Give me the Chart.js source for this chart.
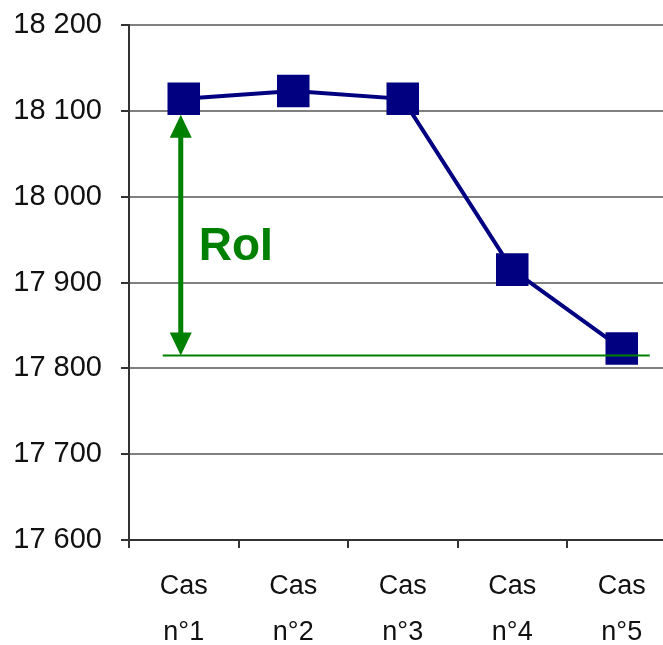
<!DOCTYPE html>
<html>
<head>
<meta charset="utf-8">
<script src="https://cdn.jsdelivr.net/npm/chart.js@4/dist/chart.umd.min.js"></script>
<style>
  html, body { margin: 0; padding: 0; background: #fff; overflow: hidden; }
  #wrap { position: absolute; left: 0; top: 0; width: 680px; height: 645px; }
  canvas { display: block; }
</style>
</head>
<body>
<div id="wrap"><canvas id="c" width="680" height="645"></canvas></div>
<script>
// Scenario labels (two lines each) and the value of each case
const caseLabels = [['Cas', 'n°1'], ['Cas', 'n°2'], ['Cas', 'n°3'], ['Cas', 'n°4'], ['Cas', 'n°5']];
const caseValues = [18114, 18123, 18114, 17915, 17823];

// Value axis range and step
const yMin = 17600;
const yMax = 18200;
const yStep = 100;

// RoI span: from the first case down to the reference level
const roiLabel = 'RoI';
const roiTopValue = caseValues[0];
const roiBaseValue = 17815;

const GREEN = '#008000';
const NAVY = '#000080';

function formatThousands(v) {
  return String(v).replace(/\B(?=(\d{3})+(?!\d))/g, ' ');
}

// Draws the green double arrow, the base line and the RoI label
const roiPlugin = {
  id: 'roiArrow',
  afterDatasetsDraw(chart) {
    const { ctx } = chart;
    const x = chart.scales.x;
    const y = chart.scales.y;
    const ax = x.getPixelForValue(0) - 3;
    const yTop = y.getPixelForValue(roiTopValue) + 16;
    const yBase = y.getPixelForValue(roiBaseValue);
    const head = 23, halfW = 11;

    ctx.save();
    // base line
    ctx.strokeStyle = GREEN;
    ctx.lineWidth = 2;
    ctx.beginPath();
    ctx.moveTo(ax - 18, yBase);
    ctx.lineTo(x.getPixelForValue(4) + 28, yBase);
    ctx.stroke();

    // shaft
    ctx.lineWidth = 5;
    ctx.beginPath();
    ctx.moveTo(ax, yTop + head - 2);
    ctx.lineTo(ax, yBase - head + 2);
    ctx.stroke();

    // heads
    ctx.fillStyle = GREEN;
    ctx.beginPath();
    ctx.moveTo(ax, yTop);
    ctx.lineTo(ax - halfW, yTop + head);
    ctx.lineTo(ax + halfW, yTop + head);
    ctx.closePath();
    ctx.fill();
    ctx.beginPath();
    ctx.moveTo(ax, yBase);
    ctx.lineTo(ax - halfW, yBase - head);
    ctx.lineTo(ax + halfW, yBase - head);
    ctx.closePath();
    ctx.fill();

    // label
    ctx.font = 'bold 46px "Liberation Sans", Arial, sans-serif';
    ctx.textAlign = 'left';
    ctx.textBaseline = 'alphabetic';
    ctx.fillText(roiLabel, ax + 18, (yTop + yBase) / 2 + 25);
    ctx.restore();
  }
};

Chart.defaults.font.family = '"Liberation Sans", Arial, sans-serif';

new Chart(document.getElementById('c'), {
  type: 'line',
  data: {
    labels: caseLabels,
    datasets: [{
      data: caseValues,
      borderColor: NAVY,
      borderWidth: 4,
      backgroundColor: NAVY,
      pointStyle: 'rect',
      pointRadius: 23,
      pointHoverRadius: 23,
      pointBackgroundColor: NAVY,
      pointBorderColor: NAVY,
      pointBorderWidth: 0,
      tension: 0,
      fill: false
    }]
  },
  options: {
    responsive: false,
    devicePixelRatio: 1,
    animation: false,
    events: [],
    layout: {
      autoPadding: false,
      padding: { top: 25, right: 3.5, left: 0, bottom: 0 }
    },
    plugins: {
      legend: { display: false },
      tooltip: { enabled: false },
      title: { display: false }
    },
    scales: {
      x: {
        offset: true,
        grid: {
          offset: true,
          drawOnChartArea: false,
          tickLength: 8,
          color: '#333',
          lineWidth: 2
        },
        border: { color: '#333', width: 2 },
        ticks: {
          color: '#111',
          font: { size: 27, lineHeight: 1.7 },
          padding: 16,
          maxRotation: 0,
          autoSkip: false
        },
        afterFit(scale) {
          scale.height = 105;
          scale.paddingLeft = 0;
          scale.paddingRight = 0;
        }
      },
      y: {
        min: yMin,
        max: yMax,
        grid: {
          color: '#808080',
          lineWidth: 2,
          tickLength: 8,
          tickColor: '#333'
        },
        border: { color: '#333', width: 2 },
        ticks: {
          stepSize: yStep,
          color: '#111',
          font: { size: 29 },
          padding: 19,
          callback: v => formatThousands(v)
        },
        afterFit(scale) {
          scale.width = 129;
          scale.paddingTop = 0;
          scale.paddingBottom = 0;
        }
      }
    }
  },
  plugins: [roiPlugin]
});
</script>
</body>
</html>
